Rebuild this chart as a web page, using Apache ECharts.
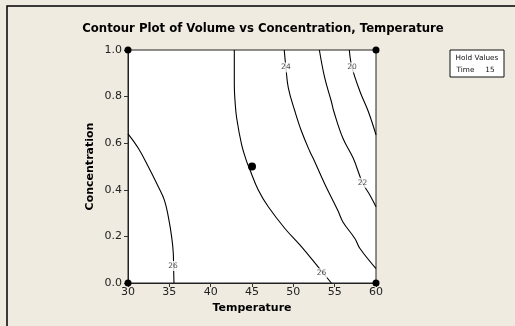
<!DOCTYPE html>
<html>
<head>
<meta charset="utf-8">
<script src="https://cdn.jsdelivr.net/npm/echarts@6/dist/echarts.min.js"></script>
<style>
html,body{margin:0;padding:0;background:#EFEBE1;}
#c{width:515px;height:326px;}
</style>
</head>
<body>
<div id="c"></div>
<script>
// Contour lines: [Temperature, Concentration]
var contour26Left = [[30,0.64],[31.25,0.578],[32.46,0.499],[33.67,0.413],[34.4,0.356],[34.88,0.284],[35.28,0.198],[35.48,0.127],[35.52,0.06],[35.56,0]];
var contour26Mid = [[42.86,1.0],[42.86,0.85],[42.95,0.78],[43.15,0.707],[43.75,0.593],[44.36,0.521],[44.7,0.49],[45.76,0.399],[46.97,0.327],[48.98,0.234],[51.0,0.155],[53.0,0.069],[54.6,0]];
var contour24 = [[48.9,1.0],[49.1,0.925],[49.4,0.836],[50.2,0.736],[51.0,0.65],[52.0,0.564],[52.4,0.535],[53.8,0.425],[55.4,0.31],[56.0,0.262],[57.46,0.19],[58.06,0.148],[60,0.062]];
var contour22 = [[53.15,1.0],[53.8,0.88],[54.6,0.779],[54.9,0.736],[56.0,0.621],[57.25,0.535],[58.37,0.43],[59.27,0.377],[60,0.327]];
var contour20 = [[56.77,1.0],[57.1,0.925],[58.06,0.822],[59.07,0.736],[60,0.636]];
var contourLabels = [[35.45,0.073,'26'],[53.4,0.042,'26'],[49.1,0.925,'24'],[58.37,0.43,'22'],[57.1,0.925,'20']];
var designPoints = [[30,0],[30,1],[60,0],[60,1],[45,0.5]];
var xTicks = [30,35,40,45,50,55,60];
var yTicks = [0.0,0.2,0.4,0.6,0.8,1.0];
var titleText = 'Contour Plot of Volume vs Concentration, Temperature';

var chart = echarts.init(document.getElementById('c'), null, {renderer:'canvas'});
function lineSeries(d){
  return {type:'line', data:d, smooth:0.4, symbol:'none', clip:true,
    lineStyle:{color:'#000', width:1.1}, z:2, silent:true};
}
var opt = {
  animation:false,
  backgroundColor:'#EFEBE1',
  grid:{left:128, top:50, width:248, height:233, show:true, backgroundColor:'#fff', borderColor:'#222', borderWidth:1},
  xAxis:{type:'value', min:xTicks[0], max:xTicks[xTicks.length-1], interval:5,
    name:'Temperature', nameLocation:'middle', nameGap:19,
    nameTextStyle:{fontFamily:'DejaVu Sans', fontWeight:'bold', fontSize:11, color:'#000'},
    axisLine:{lineStyle:{color:'#222'}}, axisTick:{show:true, length:4, lineStyle:{color:'#333'}},
    axisLabel:{fontFamily:'DejaVu Sans', fontSize:11, color:'#222', margin:4}, splitLine:{show:false}},
  yAxis:{type:'value', min:yTicks[0], max:yTicks[yTicks.length-1], interval:0.2,
    name:'Concentration', nameLocation:'middle', nameGap:32, nameRotate:90,
    nameTextStyle:{fontFamily:'DejaVu Sans', fontWeight:'bold', fontSize:11, color:'#000'},
    axisLine:{lineStyle:{color:'#222'}}, axisTick:{show:true, length:4, lineStyle:{color:'#333'}},
    axisLabel:{fontFamily:'DejaVu Sans', fontSize:11, color:'#222', margin:6, formatter:function(v){return v.toFixed(1);}}, splitLine:{show:false}},
  graphic:[
    {type:'rect', shape:{x:7,y:6,width:700,height:500}, style:{fill:'none', stroke:'#000', lineWidth:1.5}, z:-1, silent:true},
    {type:'text', x:263, y:29, style:{text:titleText, fontFamily:'DejaVu Sans', fontWeight:'bold', fontSize:11.7, fill:'#000', textAlign:'center', textVerticalAlign:'middle'}},
    {type:'rect', shape:{x:450,y:50,width:54,height:27}, style:{fill:'#fff', stroke:'#111', lineWidth:1}},
    {type:'text', x:477, y:58, style:{text:'Hold Values', fontFamily:'DejaVu Sans', fontSize:7.3, fill:'#111', textAlign:'center', textVerticalAlign:'middle'}},
    {type:'text', x:465.5, y:70, style:{text:'Time', fontFamily:'DejaVu Sans', fontSize:7.3, fill:'#111', textAlign:'center', textVerticalAlign:'middle'}},
    {type:'text', x:490, y:70, style:{text:'15', fontFamily:'DejaVu Sans', fontSize:7.3, fill:'#111', textAlign:'center', textVerticalAlign:'middle'}}
  ],
  series:[
    lineSeries(contour26Left), lineSeries(contour26Mid), lineSeries(contour24), lineSeries(contour22), lineSeries(contour20),
    {type:'scatter', data:contourLabels.map(function(d){return [d[0],d[1],d[2]];}), symbolSize:0, z:3, silent:true,
      label:{show:true, position:'inside', formatter:function(p){return p.value[2];}, fontFamily:'DejaVu Sans', fontSize:7.5, color:'#222', backgroundColor:'#fff', padding:[1,1]}},
    {type:'scatter', data:designPoints, symbol:'circle', symbolSize:function(v){return v[0]===45?8:7;}, clip:false, z:4, silent:true,
      itemStyle:{color:'#000', opacity:1}}
  ]
};
chart.setOption(opt);
</script>
</body>
</html>
